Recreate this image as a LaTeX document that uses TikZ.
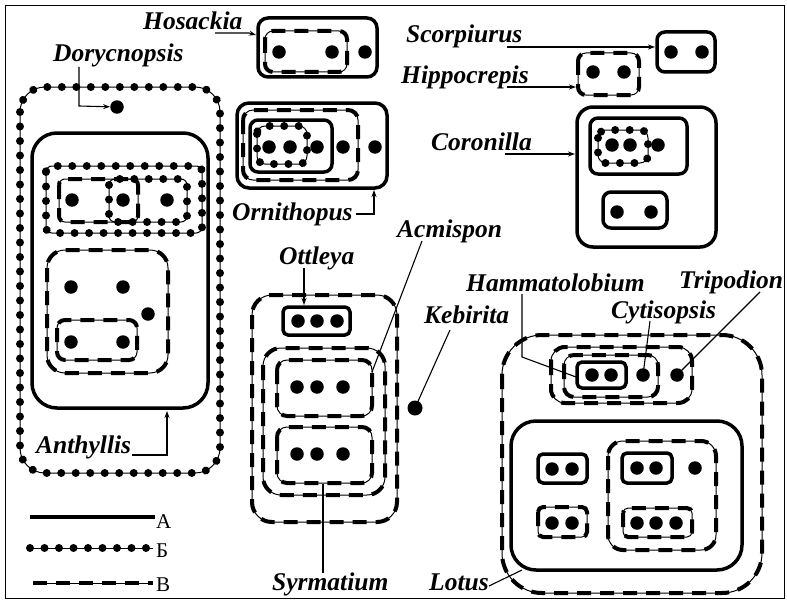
\documentclass[tikz,border=0pt]{standalone}
\usepackage{fontspec}
\setmainfont{Liberation Serif}
\usetikzlibrary{decorations.markings,arrows.meta}
\begin{document}
\begin{tikzpicture}[x=1pt,y=-1pt,
 styA/.style={line width=3.5pt},
 styB/.style={line width=1pt, postaction={decorate, decoration={markings, mark=between positions 0 and 1 step 14.5pt with {\fill (0,0) circle (4pt);}}}},
 styC/.style={line width=1pt, postaction={draw, line width=4pt, dash pattern=on 14pt off 9pt}},
 dot/.style={circle, fill, inner sep=0pt, minimum size=13.5pt},
 lbl/.style={inner sep=0pt, anchor=base west, font=\fontsize{25.5}{25.5}\selectfont\bfseries\itshape},
 leg/.style={inner sep=0pt, anchor=base west, font=\fontsize{21}{21}\selectfont},
 lead/.style={line width=1.1pt},
 arr/.style={line width=1.1pt, -{Stealth[length=7pt,width=5pt]}},
]
\useasboundingbox (0,0) rectangle (787,610);
\draw[line width=0.8pt] (5,5) rectangle (784,598);

% ---------- Hosackia
\draw[styA, rounded corners=10pt] (258,18) rectangle (377,77);
\draw[styC, rounded corners=8pt] (265,31) rectangle (347,72);
\node[dot] (h1) at (279,52) {};
\node[dot] (h2) at (332,52) {};
\node[dot] (h3) at (365,52) {};
\node[lbl] (hosL) at (143,30) {Hosackia};
\coordinate (hosA) at (215,33);
\coordinate (hosB) at (249,33);
\coordinate (hosC) at (256,35);
\draw[arr] (hosA) -- (hosB) -- (hosC);

% ---------- Ornithopus
\draw[styA, rounded corners=12pt] (237,103) rectangle (387,188);
\draw[styC, rounded corners=10pt] (243,110) rectangle (358,180);
\draw[styA, rounded corners=8pt] (250,120) rectangle (332,172);
\draw[styB, rounded corners=8pt] (257,126) rectangle (307,164);
\node[dot] (o1) at (269,147) {};
\node[dot] (o2) at (290,147) {};
\node[dot] (o3) at (317,147) {};
\node[dot] (o4) at (343,147) {};
\node[dot] (o5) at (375,147) {};
\node[lbl] (ornL) at (232,220) {Ornithopus};
\coordinate (ornA) at (356,214);
\coordinate (ornB) at (374,214);
\coordinate (ornC) at (374,190);
\draw[arr] (ornA) -- (ornB) -- (ornC);

% ---------- Scorpiurus
\draw[styA, rounded corners=8pt] (657,32) rectangle (715,72);
\node[dot] (s1) at (671,52) {};
\node[dot] (s2) at (702,52) {};
\node[lbl] (scoL) at (406,43) {Scorpiurus};
\coordinate (scoA) at (507,47);
\coordinate (scoB) at (655,47);
\draw[arr] (scoA) -- (scoB);

% ---------- Hippocrepis
\draw[styC, rounded corners=8pt] (578,53) rectangle (639,95);
\node[dot] (p1) at (593,72) {};
\node[dot] (p2) at (624,72) {};
\node[lbl] (hipL) at (401,83) {Hippocrepis};
\coordinate (hipA) at (507,87);
\coordinate (hipB) at (576,87);
\draw[arr] (hipA) -- (hipB);

% ---------- Coronilla
\draw[styA, rounded corners=16pt] (577,107) rectangle (716,247);
\draw[styA, rounded corners=8pt] (590,118) rectangle (687,174);
\draw[styB, rounded corners=8pt] (598,130) rectangle (648,163);
\node[dot] (c1) at (612,145) {};
\node[dot] (c2) at (630,145) {};
\node[dot] (c3) at (658,145) {};
\draw[styA, rounded corners=8pt] (603,192) rectangle (667,228);
\node[dot] (c4) at (617,212) {};
\node[dot] (c5) at (651,212) {};
\node[lbl] (corL) at (431,150) {Coronilla};
\coordinate (corA) at (505,154);
\coordinate (corB) at (575,154);
\draw[arr] (corA) -- (corB);

% ---------- Anthyllis group
\draw[styB, rounded corners=25pt] (20,87) rectangle (220,473);
\draw[styA, rounded corners=25pt] (32,133) rectangle (208,408);
\draw[styB, rounded corners=6pt] (46,166) rectangle (202,233);
\draw[styC, rounded corners=6pt] (59,179) rectangle (138,222);
\draw[styB, rounded corners=6pt] (109,179) rectangle (187,222);
\node[dot] (a1) at (72,200) {};
\node[dot] (a2) at (123,200) {};
\node[dot] (a3) at (167,200) {};
\draw[styC, rounded corners=18pt] (47,250) rectangle (168,373);
\node[dot] (a4) at (71,287) {};
\node[dot] (a5) at (123,287) {};
\node[dot] (a6) at (148,314) {};
\draw[styC, rounded corners=8pt] (57,320) rectangle (137,360);
\node[dot] (a7) at (71,342) {};
\node[dot] (a8) at (123,342) {};
\node[lbl] (antL) at (36,453) {Anthyllis};
\coordinate (antA) at (132,455);
\coordinate (antB) at (167,455);
\coordinate (antC) at (167,411);
\draw[arr] (antA) -- (antB) -- (antC);

% ---------- Dorycnopsis
\node[dot] (dor) at (117,107) {};
\node[lbl] (dorL) at (53,62) {Dorycnopsis};
\coordinate (dorA) at (79,67);
\coordinate (dorB) at (79,106);
\draw[arr] (dorA) -- (dorB) -- (dor);

% ---------- central group
\draw[styC, rounded corners=20pt] (252,295) rectangle (397,522);
\draw[styA, rounded corners=5pt] (283,307) rectangle (350,335);
\node[dot] (t1) at (298,321) {};
\node[dot] (t2) at (317,321) {};
\node[dot] (t3) at (337,321) {};
\draw[styC, rounded corners=18pt] (263,348) rectangle (385,495);
\draw[styC, rounded corners=10pt] (277,360) rectangle (372,416);
\node[dot] (m1) at (297,387) {};
\node[dot] (m2) at (317,387) {};
\node[dot] (m3) at (343,387) {};
\draw[styC, rounded corners=10pt] (277,427) rectangle (372,483);
\node[dot] (y1) at (297,454) {};
\node[dot] (y2) at (317,454) {};
\node[dot] (y3) at (343,454) {};
\node[lbl] (ottL) at (279,264) {Ottleya};
\coordinate (ottA) at (304,268);
\coordinate (ottB) at (304,305);
\draw[arr] (ottA) -- (ottB);
\node[lbl] (acmL) at (397,237) {Acmispon};
\coordinate (acmA) at (422,241);
\coordinate (acmB) at (372,372);
\draw[lead] (acmA) -- (acmB);
\node[lbl] (kebL) at (424,323) {Kebirita};
\node[dot, minimum size=15pt] (keb) at (415,408) {};
\coordinate (kebA) at (450,330);
\draw[lead] (kebA) -- (keb.center);
\node[lbl] (syrL) at (272,590) {Syrmatium};
\coordinate (syrA) at (323,573);
\coordinate (syrB) at (323,484);
\draw[lead] (syrA) -- (syrB);

% ---------- Lotus group
\draw[styC, rounded corners=40pt] (502,335) rectangle (762,593);
\draw[styC, rounded corners=14pt] (551,347) rectangle (692,403);
\draw[styC, rounded corners=10pt] (564,355) rectangle (658,397);
\draw[styA, rounded corners=5pt] (577,362) rectangle (626,388);
\node[dot] (l1) at (592,375) {};
\node[dot] (l2) at (611,375) {};
\node[dot] (cyt) at (643,375) {};
\node[dot] (tri) at (677,375) {};
\draw[styA, rounded corners=25pt] (511,421) rectangle (742,570);
\draw[styA, rounded corners=5pt] (538,454) rectangle (587,483);
\node[dot] (l3) at (552,469) {};
\node[dot] (l4) at (572,469) {};
\draw[styC, rounded corners=5pt] (538,507) rectangle (587,537);
\node[dot] (l5) at (552,523) {};
\node[dot] (l6) at (572,523) {};
\draw[styC, rounded corners=15pt] (608,441) rectangle (716,550);
\draw[styA, rounded corners=5pt] (622,453) rectangle (672,483);
\node[dot] (l7) at (637,468) {};
\node[dot] (l8) at (656,468) {};
\node[dot] (l9) at (695,468) {};
\draw[styC, rounded corners=5pt] (623,508) rectangle (692,537);
\node[dot] (l10) at (637,523) {};
\node[dot] (l11) at (656,523) {};
\node[dot] (l12) at (676,523) {};
\node[lbl] (hamL) at (466,291) {Hammatolobium};
\coordinate (hamA) at (522,294);
\coordinate (hamB) at (522,357);
\coordinate (hamC) at (576,377);
\draw[lead] (hamA) -- (hamB) -- (hamC);
\node[lbl] (cytL) at (611,318) {Cytisopsis};
\coordinate (cytA) at (650,321);
\draw[lead] (cytA) -- (cyt.center);
\node[lbl] (triL) at (679,288) {Tripodion};
\coordinate (triA) at (760,292);
\draw[lead] (triA) -- (tri.center);
\node[lbl] (lotL) at (429,590) {Lotus};
\coordinate (lotA) at (489,586);
\coordinate (lotB) at (522,570);
\draw[lead] (lotA) -- (lotB);

% ---------- legend
\coordinate (lA1) at (30,517); \coordinate (lA2) at (155,517);
\coordinate (lB1) at (30,548); \coordinate (lB2) at (153,548);
\coordinate (lC1) at (33,583); \coordinate (lC2) at (153,583);
\draw[styA] (lA1) -- (lA2);
\draw[styB] (lB1) -- (lB2);
\draw[styC] (lC1) -- (lC2);
\node[leg] (legA) at (156,528) {А};
\node[leg] (legB) at (156,557) {Б};
\node[leg] (legC) at (156,591) {В};
\end{tikzpicture}
\end{document}
